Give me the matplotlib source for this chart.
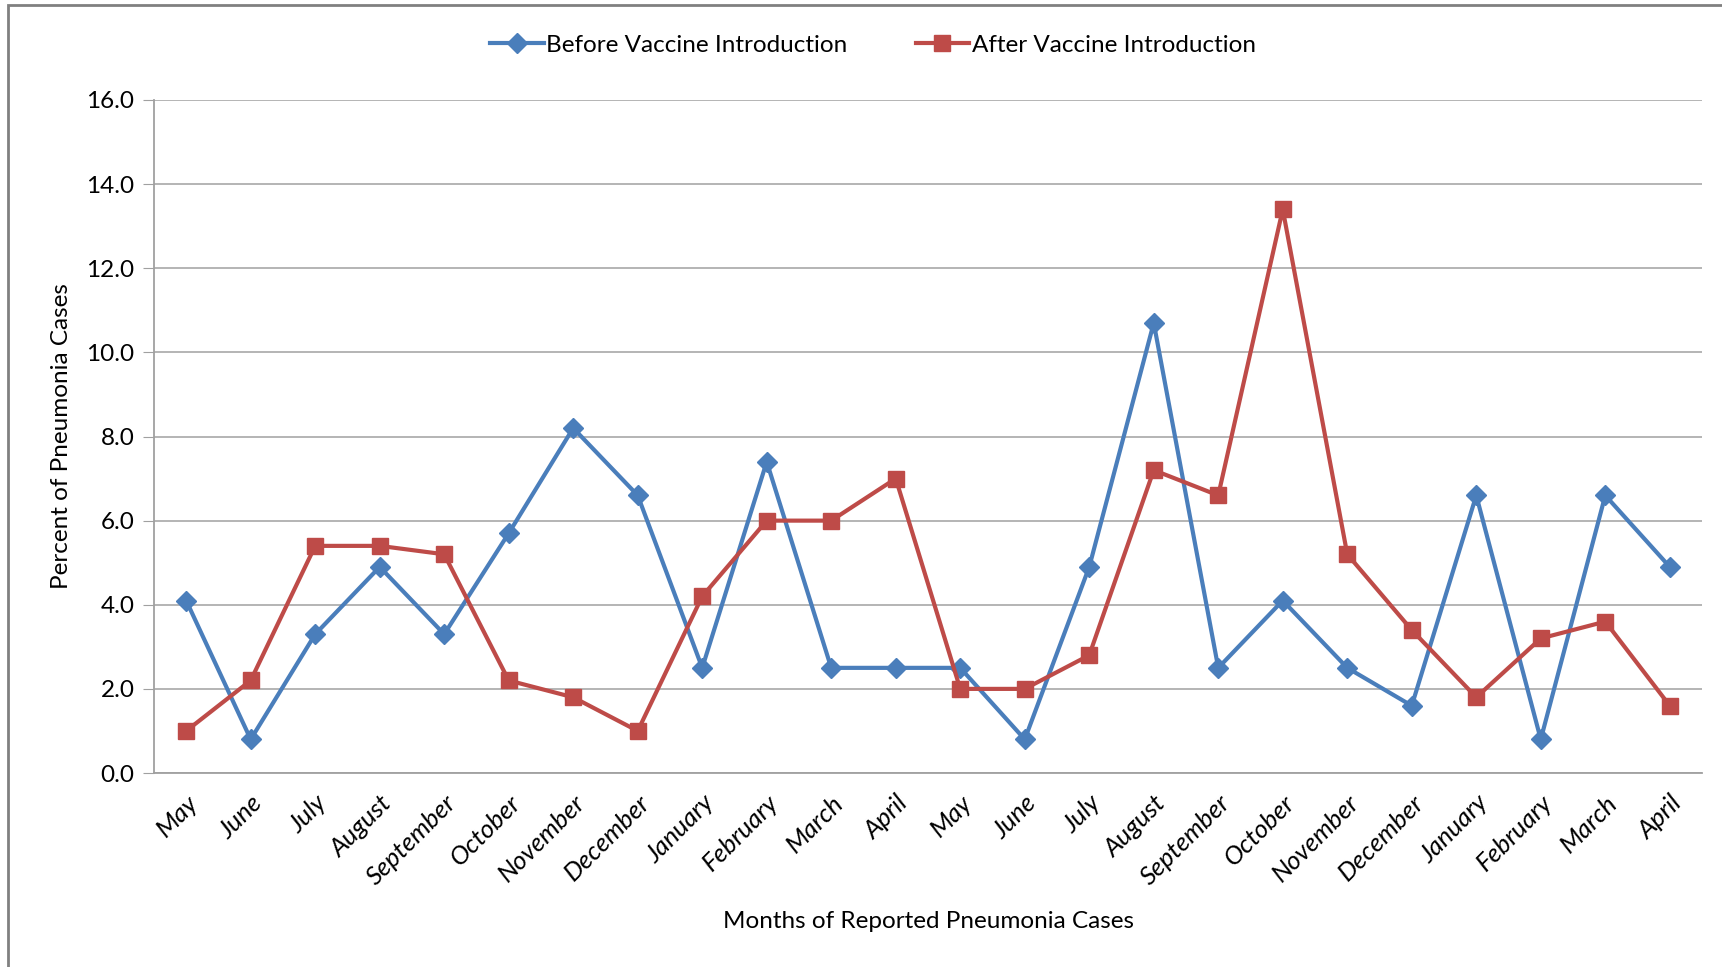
import matplotlib.pyplot as plt
from matplotlib.patches import Rectangle

# ============================================================
# DADOS
# ============================================================

months = [
    "May", "June", "July", "August", "September", "October", "November",
    "December", "January", "February", "March", "April",
    "May", "June", "July", "August", "September", "October", "November",
    "December", "January", "February", "March", "April",
]

before = [4.1, 0.8, 3.3, 4.9, 3.3, 5.7, 8.2, 6.6, 2.5, 7.4, 2.5, 2.5,
          2.5, 0.8, 4.9, 10.7, 2.5, 4.1, 2.5, 1.6, 6.6, 0.8, 6.6, 4.9]

after = [1.0, 2.2, 5.4, 5.4, 5.2, 2.2, 1.8, 1.0, 4.2, 6.0, 6.0, 7.0,
         2.0, 2.0, 2.8, 7.2, 6.6, 13.4, 5.2, 3.4, 1.8, 3.2, 3.6, 1.6]

y_ticks = [0, 2, 4, 6, 8, 10, 12, 14, 16]

# ============================================================
# FIGURA
# ============================================================

plt.rcParams['font.family'] = ['Lato', 'DejaVu Sans']
FS = 17.5

fig = plt.figure(figsize=(17.22, 9.67), dpi=100)
ax = fig.add_axes([0.0894, 0.2006, 0.899, 0.696])

x = list(range(len(months)))

ax.plot(x, before, color='#4A7EBB', lw=3.0, marker='D', markersize=10,
        label="Before Vaccine Introduction", zorder=3)
ax.plot(x, after, color='#BE4B48', lw=3.0, marker='s', markersize=11,
        label="After Vaccine Introduction", zorder=3)

ax.set_xlim(-0.5, len(months) - 0.5)
ax.set_ylim(0, 16)
ax.set_yticks(y_ticks)
ax.set_yticklabels([f"{v:.1f}" for v in y_ticks], fontsize=FS)
ax.yaxis.grid(True, color='#A0A0A0', lw=1.1)
ax.set_axisbelow(True)

ax.set_xticks(x)
ax.set_xticklabels(months, rotation=45, ha='right', rotation_mode='anchor',
                   fontsize=18.5, style='italic')
ax.tick_params(axis='x', length=0, pad=13)
ax.tick_params(axis='y', length=8, color='#A0A0A0', pad=6)

for side in ['top', 'right']:
    ax.spines[side].set_visible(False)
for side in ['left', 'bottom']:
    ax.spines[side].set_color('#A0A0A0')
    ax.spines[side].set_linewidth(1.3)

ax.set_ylabel("Percent of Pneumonia Cases", fontsize=FS, labelpad=10)
fig.text(0.539, 0.047, "Months of Reported Pneumonia Cases",
         fontsize=FS, ha='center', va='center')

fig.legend(loc='center', bbox_to_anchor=(0.507, 0.953), ncol=2,
           frameon=False, fontsize=FS, handlelength=2.2,
           handletextpad=0.1, columnspacing=2.8)

# moldura externa do gráfico (cortada à direita e embaixo)
fig.patches.append(Rectangle((8 / 1722, -0.05), 1.1, 1 - 5 / 967 + 0.05,
                             transform=fig.transFigure, fill=False,
                             edgecolor='#808080', lw=2))

# ============================================================
# EXPORTAÇÃO
# ============================================================

plt.savefig("out.png", dpi=100)
